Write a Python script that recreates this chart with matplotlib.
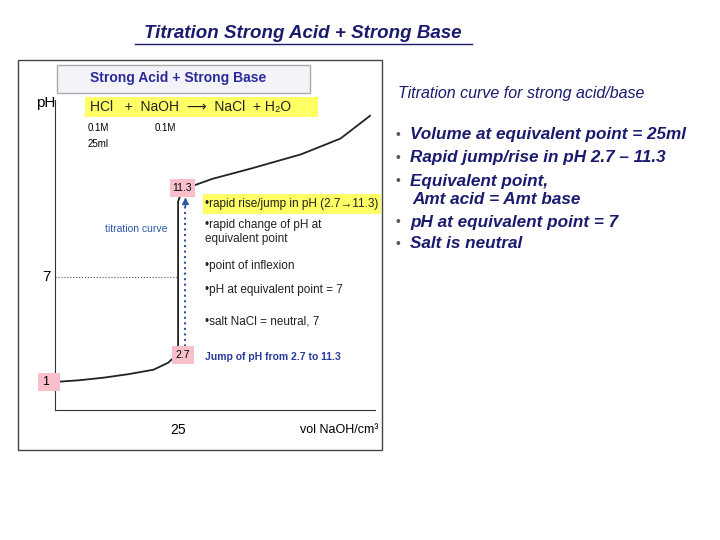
import matplotlib
matplotlib.use("Agg")
import matplotlib.pyplot as plt
from matplotlib.patches import Rectangle

volume = [0, 5, 10, 15, 20, 23, 24.5, 25, 25, 25.5, 27, 32, 40, 50, 58, 64]
ph = [1.0, 1.1, 1.25, 1.45, 1.7, 2.1, 2.5, 2.7, 11.3, 11.7, 12.1, 12.6, 13.2, 14.0, 14.9, 16.2]
bullets = ["Volume at equivalent point = 25ml",
           "Rapid jump/rise in pH 2.7 \u2013 11.3",
           "Equivalent point,\n  Amt acid = Amt base",
           "pH at equivalent point = 7",
           "Salt is neutral"]
notes = ["rapid rise/jump in pH (2.7\u219211.3)", "rapid change of pH at\nequivalent point",
         "point of inflexion", "pH at equivalent point = 7", "salt NaCl = neutral, 7"]

plt.rcParams['font.family'] = ['Liberation Sans', 'DejaVu Sans']
fig = plt.figure(figsize=(7.2, 5.4), dpi=100)
W, H = 720, 540
def P(x, y): return (x / W, 1 - y / H)

fig.text(*P(303, 34), "Titration Strong Acid + Strong Base", ha='center', va='center',
         fontsize=13.5, fontweight='bold', style='italic', color='#1a1a6e')
fig.add_artist(plt.Line2D([135/W, 472/W], [1-44/H]*2, color='#1a1a6e', lw=1))

fig.add_artist(Rectangle(P(18, 450), 364/W, 390/H, fill=False, ec='#444444', lw=1))

x0, x1, ytop, ybot = 55, 375, 100, 410
ax = fig.add_axes([x0/W, 1-ybot/H, (x1-x0)/W, (ybot-ytop)/H])
ax.set_xlim(0, 65); ax.set_ylim(-0.6, 17.1)
for s in ['top', 'right']: ax.spines[s].set_visible(False)
ax.spines['left'].set_color('#333'); ax.spines['bottom'].set_color('#333')
ax.set_xticks([]); ax.set_yticks([]); ax.patch.set_alpha(0)
ax.plot(volume, ph, color='#222', lw=1.3)
ax.plot([26.5, 26.5], [2.7, 11.5], color='#3355aa', ls=':', lw=1.5)
ax.annotate("", xy=(26.5, 11.7), xytext=(26.5, 10.8),
            arrowprops=dict(arrowstyle='-|>', color='#3355aa'))
ax.plot([0, 25], [7, 7], color='#555', ls=':', lw=0.8)

fig.add_artist(Rectangle(P(57, 93), 253/W, 28/H, fc='#f4f4f8', ec='#aaaaaa', lw=1))
fig.text(*P(90, 78), "Strong Acid + Strong Base", fontsize=10, fontweight='bold',
         color='#2a2a9a', va='center')
fig.add_artist(Rectangle(P(85, 117), 233/W, 20/H, fc='#ffff66', ec='none'))
fig.text(*P(90, 107), "HCl   +  NaOH  \u27f6  NaCl  + H\u2082O", fontsize=10, va='center', color='#222')
fig.text(*P(88, 128), "0.1M", fontsize=7, va='center')
fig.text(*P(155, 128), "0.1M", fontsize=7, va='center')
fig.text(*P(88, 144), "25ml", fontsize=7, va='center')
fig.text(*P(36, 103), "pH", fontsize=11, va='center')

fig.add_artist(Rectangle(P(170, 197), 25/W, 18/H, fc='#f9c0cc', ec='none'))
fig.text(*P(182, 188), "11.3", fontsize=7.5, ha='center', va='center')
fig.add_artist(Rectangle(P(172, 364), 22/W, 18/H, fc='#f9c0cc', ec='none'))
fig.text(*P(183, 355), "2.7", fontsize=7.5, ha='center', va='center')
fig.add_artist(Rectangle(P(38, 391), 22/W, 18/H, fc='#f9c0cc', ec='none'))
fig.text(*P(46, 382), "1", fontsize=9, ha='center', va='center')
fig.text(*P(46, 277), "7", fontsize=11, ha='center', va='center')
fig.text(*P(178, 430), "25", fontsize=10, ha='center', va='center')
fig.text(*P(300, 430), "vol NaOH/cm\u00b3", fontsize=9, va='center')
fig.text(*P(105, 229), "titration curve", fontsize=7.5, color='#2a5aaa', va='center')
fig.text(*P(205, 357), "Jump of pH from 2.7 to 11.3", fontsize=7.5, fontweight='bold',
         color='#2a3a9a', va='center')

fig.add_artist(Rectangle(P(203, 214), 178/W, 20/H, fc='#ffff66', ec='none'))
ny = [204, 232, 266, 290, 321]
for t, y in zip(notes, ny):
    fig.text(*P(205, y), "\u2022" + t, fontsize=8.5, va='center', color='#222', linespacing=1.3)

fig.text(*P(398, 93), "Titration curve for strong acid/base", fontsize=11.5,
         color='#1a1a6e', va='center', style='italic')
by = [135, 158, 181, 222, 244]
for t, y in zip(bullets, by):
    lines = t.split("\n")
    fig.text(*P(395, y), "\u2022", fontsize=10, color='#555', va='center')
    fig.text(*P(410, y), lines[0], fontsize=12.3, fontweight='bold', style='italic',
             color='#1a1a6e', va='center')
    if len(lines) > 1:
        fig.text(*P(412, y + 19), lines[1].strip(), fontsize=12.3, fontweight='bold',
                 style='italic', color='#1a1a6e', va='center')

fig.savefig("out.png", dpi=100)
